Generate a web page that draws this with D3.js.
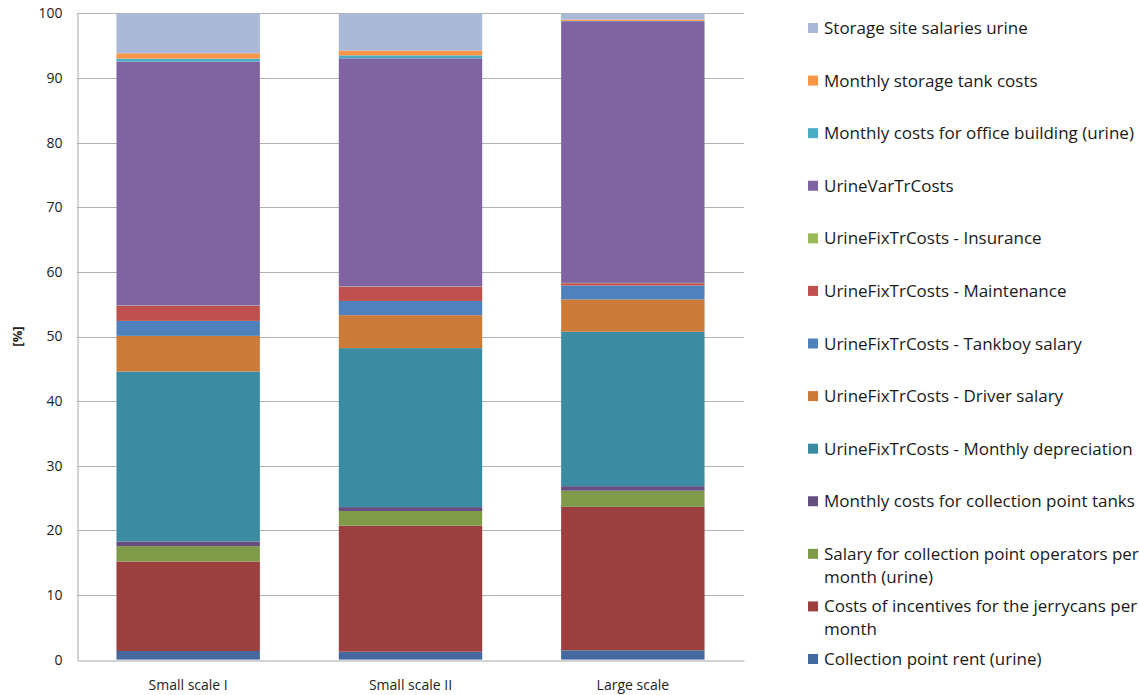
<!DOCTYPE html>
<html>
<head>
<meta charset="utf-8">
<script src="https://cdn.jsdelivr.net/npm/d3@7"></script>
<style>
  html, body { margin: 0; padding: 0; background: #fff; }
  svg { display: block; font-family: "Open Sans", Lato, sans-serif; }
</style>
</head>
<body>
<svg id="chart" width="1139" height="695"></svg>
<script>
// Categories on the x axis
const categories = ["Small scale I", "Small scale II", "Large scale"];

// Cost components, stacked from bottom to top
const seriesNames = [
  "Collection point rent (urine)",
  "Costs of incentives for the jerrycans per month",
  "Salary for collection point operators per month (urine)",
  "Monthly costs for collection point tanks",
  "UrineFixTrCosts - Monthly depreciation",
  "UrineFixTrCosts - Driver salary",
  "UrineFixTrCosts - Tankboy salary",
  "UrineFixTrCosts - Maintenance",
  "UrineFixTrCosts - Insurance",
  "UrineVarTrCosts",
  "Monthly costs for office building (urine)",
  "Monthly storage tank costs",
  "Storage site salaries urine"
];

// Share of total cost [%] per category, one array per category (bottom to top)
const smallScaleI  = [1.33, 13.85, 2.38, 0.72, 26.30, 5.52, 2.32, 2.32, 0.05, 37.76, 0.45, 0.83, 6.17];
const smallScaleII = [1.22, 19.50, 2.28, 0.60, 24.60, 5.10, 2.20, 2.20, 0.05, 35.30, 0.45, 0.75, 5.75];
const largeScale   = [1.44, 22.20, 2.50, 0.70, 23.90, 5.00, 2.16, 0.35, 0.05, 40.50, 0.05, 0.20, 0.95];

// Legend labels (wrapped lines), same order as seriesNames
const legendLines = [
  ["Collection point rent (urine)"],
  ["Costs of incentives for the jerrycans per", "month"],
  ["Salary for collection point operators per", "month (urine)"],
  ["Monthly costs for collection point tanks"],
  ["UrineFixTrCosts - Monthly depreciation"],
  ["UrineFixTrCosts - Driver salary"],
  ["UrineFixTrCosts - Tankboy salary"],
  ["UrineFixTrCosts - Maintenance"],
  ["UrineFixTrCosts - Insurance"],
  ["UrineVarTrCosts"],
  ["Monthly costs for office building (urine)"],
  ["Monthly storage tank costs"],
  ["Storage site salaries urine"]
];

const yTicks = [0, 10, 20, 30, 40, 50, 60, 70, 80, 90, 100];

const colors = [
  "#44699E", "#9C403F", "#7F9A48", "#664F80", "#3B8BA2", "#CC7A38",
  "#4F81BD", "#C0504D", "#9BBB59", "#8064A2", "#4BACC6", "#F79646", "#AAB9D7"
];

// Build the table for d3.stack
const byCategory = [smallScaleI, smallScaleII, largeScale];
const table = categories.map((c, i) => {
  const row = { category: c };
  seriesNames.forEach((s, j) => { row[s] = byCategory[i][j]; });
  return row;
});

const svg = d3.select("#chart");
const margin = { left: 77, right: 395, top: 13.4, bottom: 35.4 };
const width = 1139, height = 695;

const x = d3.scaleBand()
  .domain(categories)
  .range([margin.left, width - margin.right])
  .paddingInner(0.355)
  .paddingOuter(0.1775);

const y = d3.scaleLinear()
  .domain([0, 100])
  .range([height - margin.bottom, margin.top]);

const color = d3.scaleOrdinal().domain(seriesNames).range(colors);

// Horizontal gridlines
svg.append("g")
  .selectAll("line")
  .data(yTicks.filter(t => t > 0))
  .join("line")
  .attr("x1", margin.left)
  .attr("x2", width - margin.right)
  .attr("y1", d => Math.round(y(d)) + 0.5)
  .attr("y2", d => Math.round(y(d)) + 0.5)
  .attr("stroke", "#B3B3B3")
  .attr("stroke-width", 1);

// Stacked bars
const stacked = d3.stack().keys(seriesNames)(table);
svg.append("g")
  .selectAll("g")
  .data(stacked)
  .join("g")
  .attr("fill", d => color(d.key))
  .selectAll("rect")
  .data(d => d)
  .join("rect")
  .attr("x", d => x(d.data.category))
  .attr("width", x.bandwidth())
  .attr("y", d => y(d[1]))
  .attr("height", d => Math.max(0, y(d[0]) - y(d[1])));

// Y axis
const yAxis = svg.append("g")
  .attr("transform", `translate(${margin.left + 0.5},0)`)
  .call(d3.axisLeft(y).tickValues(yTicks).tickSize(0).tickPadding(15).tickFormat(d3.format("d")));
yAxis.select(".domain").attr("stroke", "#A6A6A6");
yAxis.selectAll("text")
  .attr("font-size", 14)
  .attr("fill", "#222")
  .attr("font-family", "'Open Sans', sans-serif");

// X axis
const xAxis = svg.append("g")
  .attr("transform", `translate(0,${Math.round(y(0)) + 0.5})`)
  .call(d3.axisBottom(x).tickSize(0).tickPadding(20));
xAxis.select(".domain").attr("stroke", "#A6A6A6");
xAxis.selectAll("text")
  .attr("font-size", 14)
  .attr("fill", "#222")
  .attr("font-family", "'Open Sans', sans-serif");

// Y axis title
svg.append("text")
  .attr("transform", `translate(22,${(y(0) + y(100)) / 2}) rotate(-90)`)
  .attr("text-anchor", "middle")
  .attr("font-size", 13)
  .attr("font-weight", "bold")
  .attr("fill", "#222")
  .text("[%]");

// Legend (top entry = top of stack)
const legendOrder = seriesNames.map((s, i) => i).reverse();
const ly = d3.scalePoint().domain(legendOrder).range([28, 659]);
const legend = svg.append("g");
const items = legend.selectAll("g")
  .data(legendOrder)
  .join("g")
  .attr("transform", i => `translate(808,${ly(i)})`);
items.append("rect")
  .attr("x", 0).attr("y", -5).attr("width", 10).attr("height", 10)
  .attr("fill", i => color(seriesNames[i]));
items.each(function(i) {
  const t = d3.select(this).append("text")
    .attr("x", 16)
    .attr("y", 6)
    .attr("font-size", 17)
    .attr("fill", "#1a1a1a");
  legendLines[i].forEach((line, k) => {
    t.append("tspan").attr("x", 16).attr("dy", k === 0 ? 0 : 23).text(line);
  });
});
</script>
</body>
</html>
